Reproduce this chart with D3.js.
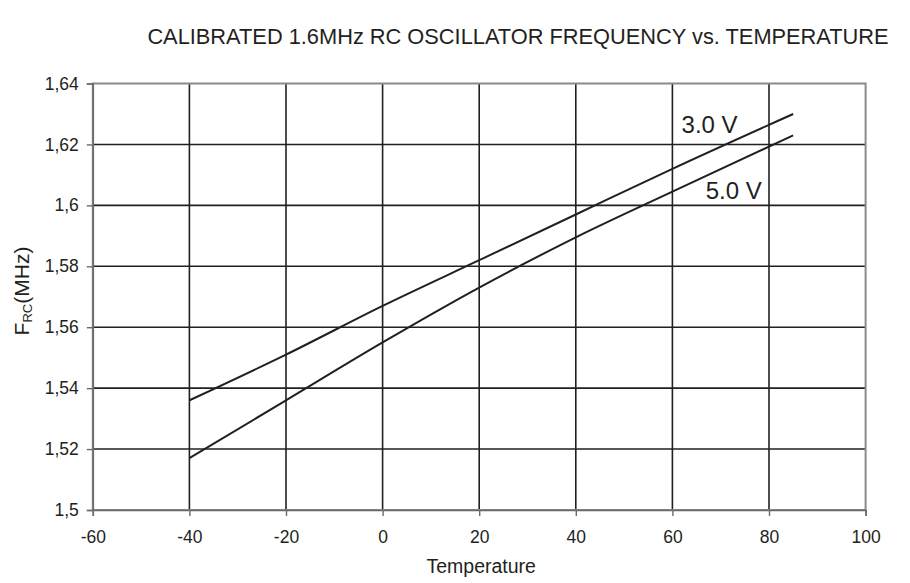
<!DOCTYPE html>
<html lang="en">
  <head>
    <meta charset="utf-8" />
    <title>RC Oscillator Frequency vs Temperature</title>
    <script src="https://d3js.org/d3.v7.min.js" charset="utf-8"></script>
    <style>
      body { margin: 0; background: #fff; }
      text { font-family: "Liberation Sans", Arial, sans-serif; fill: #231f20; }
    </style>
  </head>
  <body>
    <div id="chart"></div>
    <script type="text/javascript">
      // data
      const temps = [-40, -20, 0, 20, 40, 60, 85];
      const f3v = [1.536, 1.551, 1.567, 1.582, 1.597, 1.612, 1.630];
      const f5v = [1.517, 1.536, 1.555, 1.573, 1.5895, 1.6045, 1.623];
      const xTicks = [-60, -40, -20, 0, 20, 40, 60, 80, 100];
      const yTicks = [1.5, 1.52, 1.54, 1.56, 1.58, 1.6, 1.62, 1.64];
      const seriesNames = ["3.0 V", "5.0 V"];

      const cW = 910, cH = 583;
      const m = { left: 92.8, right: 910 - 865.6, top: 83.5, bottom: 583 - 510 };
      const w = cW - m.left - m.right, h = cH - m.top - m.bottom;

      const svg = d3.select("#chart").append("svg")
        .attr("width", cW).attr("height", cH);

      const x = d3.scaleLinear().domain([-60, 100]).range([0, w]);
      const y = d3.scaleLinear().domain([1.5, 1.64]).range([h, 0]);

      const g = svg.append("g").attr("transform", `translate(${m.left},${m.top})`);

      // grid
      g.append("g").selectAll("line").data(xTicks.slice(1, -1)).enter().append("line")
        .attr("x1", d => x(d)).attr("x2", d => x(d))
        .attr("y1", 0).attr("y2", h)
        .attr("stroke", "#231f20").attr("stroke-width", 1.6);
      g.append("g").selectAll("line").data(yTicks.slice(1, -1)).enter().append("line")
        .attr("x1", 0).attr("x2", w)
        .attr("y1", d => y(d)).attr("y2", d => y(d))
        .attr("stroke", "#231f20").attr("stroke-width", 1.6);

      // frame
      g.append("rect").attr("x", 0).attr("y", 0).attr("width", w).attr("height", h)
        .attr("fill", "none").attr("stroke", "#8a8a8a").attr("stroke-width", 2);

      // axes
      const fmt = d => String(+d.toFixed(2)).replace(".", ",");
      const yAxis = g.append("g")
        .call(d3.axisLeft(y).tickValues(yTicks).tickFormat(fmt).tickSize(6).tickPadding(8));
      const xAxis = g.append("g").attr("transform", `translate(0,${h})`)
        .call(d3.axisBottom(x).tickValues(xTicks).tickFormat(d => String(d)).tickSize(6).tickPadding(15));
      [xAxis, yAxis].forEach(a => {
        a.select(".domain").attr("stroke", "#6a6a6a").attr("stroke-width", 1.6);
        a.selectAll(".tick line").attr("stroke", "#6a6a6a").attr("stroke-width", 1.4);
        a.selectAll("text").attr("font-size", 17.5)
          .attr("font-family", "Liberation Sans, Arial, sans-serif").attr("fill", "#231f20");
      });

      // curves
      const line = d3.line().x(d => x(d[0])).y(d => y(d[1])).curve(d3.curveMonotoneX);
      [f3v, f5v].forEach(vals => {
        g.append("path")
          .datum(temps.map((t, i) => [t, vals[i]]))
          .attr("d", line)
          .attr("fill", "none").attr("stroke", "#231f20").attr("stroke-width", 2);
      });

      // series labels
      g.append("text").attr("x", x(61.9)).attr("y", y(1.6237))
        .attr("font-size", 24).text(seriesNames[0]);
      g.append("text").attr("x", x(66.9)).attr("y", y(1.6022))
        .attr("font-size", 24).text(seriesNames[1]);

      // title and axis titles
      svg.append("text").attr("x", 518).attr("y", 44).attr("text-anchor", "middle")
        .attr("font-size", 21.8).text("CALIBRATED 1.6MHz RC OSCILLATOR FREQUENCY vs. TEMPERATURE");
      svg.append("text").attr("x", m.left + w / 2 + 2).attr("y", 573).attr("text-anchor", "middle")
        .attr("font-size", 19.5).text("Temperature");

      const yl = svg.append("text")
        .attr("transform", "translate(29,291) rotate(-90)")
        .attr("text-anchor", "middle").attr("font-size", 21);
      yl.append("tspan").text("F");
      yl.append("tspan").attr("font-size", 13).attr("dy", 3).text("RC");
      yl.append("tspan").attr("dy", -3).text("(MHz)");
    </script>
  </body>
</html>
